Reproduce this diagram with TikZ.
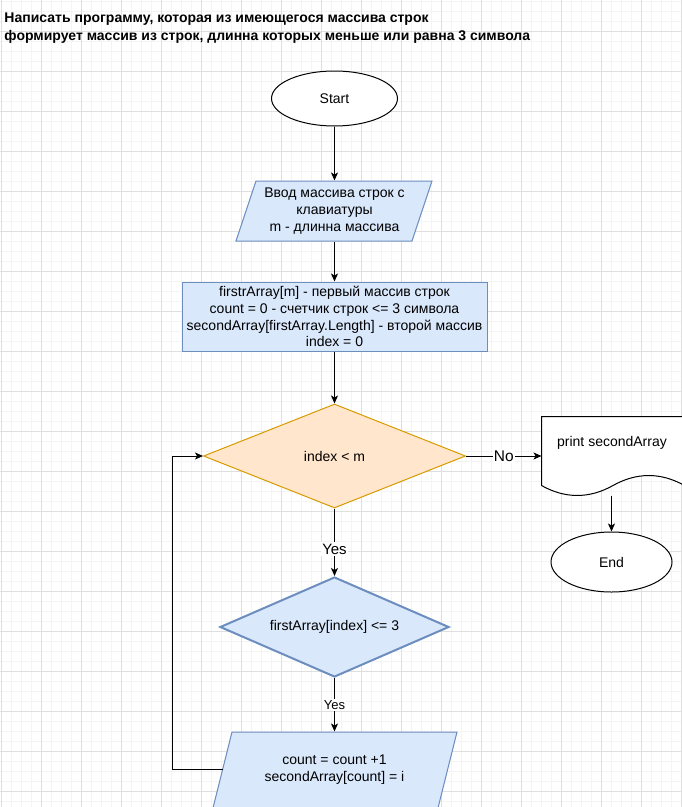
\documentclass[tikz,border=0pt]{standalone}
\usepackage{fontspec}
\setmainfont{Liberation Sans}
\usepackage{xcolor}
\usepackage{tikz}
\usetikzlibrary{arrows.meta,shapes.geometric}

\definecolor{ioFill}{HTML}{DAE8FC}
\definecolor{ioLine}{HTML}{6C8EBF}
\definecolor{condFill}{HTML}{FFE6CC}
\definecolor{condLine}{HTML}{D79B00}
\definecolor{gridMinor}{HTML}{F4F4F4}
\definecolor{gridMajor}{HTML}{DFDFDF}

\begin{document}
\begin{tikzpicture}[x=0.75pt, y=-0.75pt, ->, >={Stealth[length=6pt,width=5.25pt,inset=1.5pt]}, line width=0.75pt, inner sep=2pt,
  font=\fontsize{10.5}{12.6}\selectfont,
  terminal/.style={ellipse, draw=black, fill=white, minimum width=94.5pt, minimum height=41.25pt},
  iopath/.style={-, draw=ioLine, fill=ioFill},
  iotext/.style={rectangle, inner sep=0pt, align=center},
  process/.style={rectangle, draw=ioLine, fill=ioFill, align=center, minimum width=228.75pt, minimum height=51.75pt},
  decision/.style={diamond, aspect=2.4, draw=ioLine, fill=ioFill, inner sep=0pt},
  gridline/.style={-, line width=0.75pt}]
\useasboundingbox (0,0) rectangle (682,807);
\clip (0,0) rectangle (682,807);
\fill[white] (0,0) rectangle (682,807);

% grid
\foreach \gx in {1,11,...,681} \draw[gridline, gridMinor] (\gx,0) -- (\gx,807);
\foreach \gy in {1,11,...,801} \draw[gridline, gridMinor] (0,\gy) -- (682,\gy);
\foreach \gx in {1,41,...,681} \draw[gridline, gridMajor] (\gx,0) -- (\gx,807);
\foreach \gy in {31,71,...,791} \draw[gridline, gridMajor] (0,\gy) -- (682,\gy);

\node[anchor=north west, align=left, inner sep=0pt, font=\bfseries\fontsize{10.5}{13.5}\selectfont] (title) at (4,12.5)
  {Написать программу, которая из имеющегося массива строк\\формирует массив из строк, длинна которых меньше или равна 3 символа};

\node[terminal] (start) at (334.5,98.5) {Start};

% input / output boxes
\draw[iopath] (236,241) -- (256,181) -- (432,181) -- (412,241) -- cycle;
\node[iotext, minimum width=132pt, minimum height=45pt] (input) at (334.5,211)
  {Ввод массива строк с\\клавиатуры\\m - длинна массива};
\draw[iopath] (212,812) -- (232,732) -- (457,732) -- (437,812) -- cycle;
\node[iotext, minimum width=168.75pt, minimum height=56.25pt] (body) at (334.5,769.5)
  {count = count +1\\secondArray[count] = i};

\node[process] (init) at (334.5,316.5)
  {firstrArray[m] - первый массив строк\\count = 0 - счетчик строк <= 3 символа\\secondArray[firstArray.Length] - второй массив\\index = 0};
\node[decision, fill=condFill, draw=condLine, minimum width=196.5pt, minimum height=78pt] (cond) at (334.5,456) {index < m};
\node[decision, line width=1.5pt, minimum width=171.75pt, minimum height=75pt] (check) at (334.5,627) {firstArray[index] <= 3};

% document shape
\node[rectangle, minimum width=106.5pt, minimum height=58.5pt, inner sep=0pt] (out) at (613,456) {};
\draw[-, fill=white] (out.north west) -- (out.north east) -- ([yshift=7.5pt]out.south east)
  .. controls +(-23.7,-13.3) and +(23.7,-13.3) .. ([yshift=7.5pt]out.south)
  .. controls +(-23.7,13.3) and +(23.7,13.3) .. ([yshift=7.5pt]out.south west) -- cycle;
\node (outtext) at (612,443) {print secondArray};
\node[terminal, minimum width=90.75pt, minimum height=45pt] (end) at (611.5,562) {End};

\coordinate (loop) at (172,456);
\coordinate (bodyleft) at (222.75,769);

\tikzstyle{edgelabel}=[fill=white, inner sep=1pt]
\path
(start) edge (input)
(input) edge (init)
(init) edge (cond)

(cond) edge node[edgelabel, font=\fontsize{11.6}{14}\selectfont] {No} (out)
(cond) edge node[edgelabel, pos=0.6, font=\fontsize{11.25}{13.5}\selectfont] {Yes} (check)

(check) edge node[edgelabel, font=\fontsize{9.75}{12}\selectfont] {Yes} (body)
(out.south -| end.north) edge (end);

\draw (bodyleft) -| (loop) |- (cond.west);
\end{tikzpicture}
\end{document}
